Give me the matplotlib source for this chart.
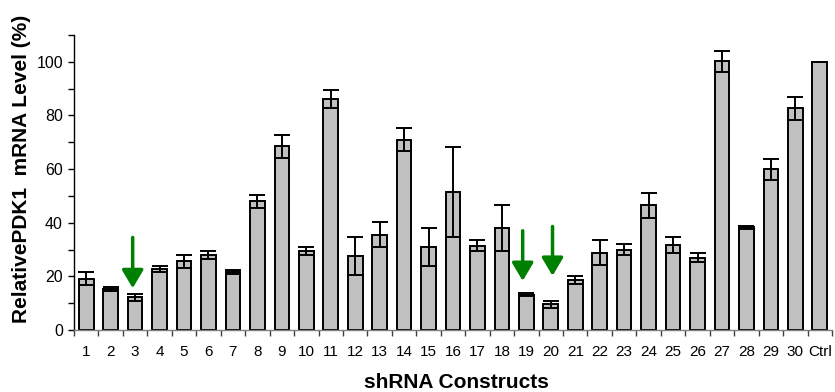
import numpy as np
import matplotlib
matplotlib.use("Agg")
import matplotlib.pyplot as plt
from matplotlib.ticker import FixedLocator

plt.rcParams['font.family'] = ['Liberation Sans', 'DejaVu Sans']

labels = [str(i) for i in range(1, 31)] + ['Ctrl']
values = [19.2, 15.4, 12.2, 22.8, 25.6, 28.0, 21.5, 48.0, 68.5, 29.6,
          86.0, 27.6, 35.5, 71.0, 31.0, 51.5, 31.5, 38.0, 13.2, 9.6,
          18.6, 28.8, 30.0, 46.5, 31.8, 27.0, 100.2, 38.3, 59.9, 82.6, 100.0]
errors = [2.5, 0.7, 1.2, 1.2, 2.4, 1.5, 0.8, 2.5, 4.3, 1.5,
          3.4, 7.2, 4.6, 4.4, 7.0, 16.8, 2.0, 8.6, 0.6, 1.3,
          1.5, 4.6, 2.0, 4.6, 3.0, 1.6, 3.9, 0.6, 3.8, 4.3, 0.0]

# green arrows pointing at the selected constructs
arrow_idx = [2, 18, 19]
arrow_x_off = [-0.1, -0.15, 0.07]
arrow_top = [34.5, 37.0, 38.6]
arrow_tip = [15.6, 18.3, 20.2]

x = np.arange(len(labels))

fig = plt.figure(figsize=(8.35, 3.92), dpi=100)
ax = fig.add_axes([74 / 835, 1 - 330 / 392, (832 - 74) / 835, (330 - 35) / 392])

ax.bar(x, values, width=0.6, color='#C0C0C0', edgecolor='black', linewidth=1.4, zorder=2)
ax.errorbar(x, values, yerr=errors, fmt='none', ecolor='black', elinewidth=1.4,
            capsize=5.6, capthick=1.4, zorder=3)

for i, dx, y0, y1 in zip(arrow_idx, arrow_x_off, arrow_top, arrow_tip):
    ax.annotate('', xy=(x[i] + dx, y1), xytext=(x[i] + dx, y0),
                arrowprops=dict(arrowstyle='-|>,head_length=1.1,head_width=0.65',
                                color='#008000', lw=2.5, shrinkA=0, shrinkB=0),
                zorder=4)

ax.set_xlim(-0.5, len(labels) - 0.5)
ax.set_ylim(0, 110)

ax.spines['top'].set_visible(False)
ax.spines['right'].set_visible(False)
ax.spines['left'].set_linewidth(1.0)
ax.spines['bottom'].set_linewidth(1.0)
ax.spines['bottom'].set_color('#808080')

ax.yaxis.set_major_locator(FixedLocator([0, 20, 40, 60, 80, 100]))
ax.yaxis.set_minor_locator(FixedLocator([10, 30, 50, 70, 90, 110]))
ax.tick_params(axis='y', which='both', direction='out', length=4, width=1.0,
               labelsize=11.5, pad=4)

ax.xaxis.set_major_locator(FixedLocator(np.arange(len(labels) + 1) - 0.5))
ax.xaxis.set_minor_locator(FixedLocator(x))
ax.set_xticklabels([], minor=False)
ax.set_xticklabels(labels, minor=True)
ax.tick_params(axis='x', which='major', direction='out', length=4, width=1.0,
               color='#404040')
ax.tick_params(axis='x', which='minor', length=0, labelsize=11, pad=11)

fig.text(22 / 835, 1 - 169 / 392, 'RelativePDK1  mRNA Level (%)', rotation=90,
         fontsize=15, fontweight='bold', ha='center', va='center')
fig.text(456 / 835, 1 - 382 / 392, 'shRNA Constructs', fontsize=15,
         fontweight='bold', ha='center', va='center')

fig.savefig('out.png', dpi=100)
